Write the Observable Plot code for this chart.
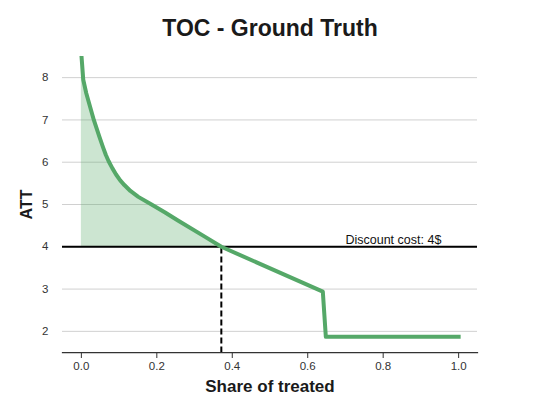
<!DOCTYPE html>
<html>
<head>
<meta charset="utf-8">
<script src="https://cdn.jsdelivr.net/npm/d3@7"></script>
<script src="https://cdn.jsdelivr.net/npm/@observablehq/plot@0.6"></script>
<style>
  html, body { margin: 0; padding: 0; background: #fff; }
  #chart { width: 554px; height: 398px; }
</style>
</head>
<body>
<div id="chart"></div>
<script>
// ---- data ----
const shareTreated = [0, 0.005, 0.013, 0.033, 0.047, 0.058, 0.065, 0.072, 0.082, 0.092, 0.103, 0.114, 0.13, 0.151, 0.186, 0.222, 0.256, 0.327, 0.371, 0.64, 0.648, 1.0];
const attValues    = [8.55, 7.95, 7.63, 7.0, 6.62, 6.34, 6.17, 6.03, 5.86, 5.71, 5.57, 5.46, 5.32, 5.18, 5.0, 4.81, 4.62, 4.24, 4.0, 2.94, 1.87, 1.87];
const discountCost = 4;
const breakEvenShare = 0.371;
const xTicks = [0, 0.2, 0.4, 0.6, 0.8, 1.0];
const yTicks = [2, 3, 4, 5, 6, 7, 8];
const titleText = "TOC - Ground Truth";
const xLabel = "Share of treated";
const yLabel = "ATT";
const costLabel = "Discount cost: 4$";
const costLabelShare = 0.7;

const curve = shareTreated.map((s, i) => ({share: s, att: attValues[i]}));
const gain = curve.filter(d => d.share <= breakEvenShare);

const green = "#55a868";
const font = "'Liberation Sans', Arial, sans-serif";

const chart = Plot.plot({
  width: 554,
  height: 398,
  marginLeft: 62,
  marginRight: 77,
  marginTop: 56,
  marginBottom: 46,
  style: {fontFamily: font, background: "#fff", color: "#262626"},
  x: {domain: [-0.05, 1.05]},
  y: {domain: [1.5, 8.5]},
  marks: [
    Plot.gridY(yTicks, {stroke: "#d0d0d0", strokeOpacity: 1, strokeWidth: 1}),
    Plot.areaY(gain, {x: "share", y1: discountCost, y2: "att", fill: green, fillOpacity: 0.3}),
    Plot.ruleY([discountCost], {stroke: "#000", strokeWidth: 2}),
    Plot.ruleX([breakEvenShare], {y1: discountCost, stroke: "#000", strokeWidth: 2, strokeDasharray: "6,3", clip: true}),
    Plot.line(curve, {x: "share", y: "att", stroke: green, strokeWidth: 4, strokeLinejoin: "round", strokeLinecap: "square", clip: true}),
    Plot.text([costLabel], {x: costLabelShare, y: discountCost, text: d => d, textAnchor: "start", lineAnchor: "bottom", dy: -3, fontSize: 12.5, fill: "#111"}),
    Plot.frame({anchor: "bottom", stroke: "#333", strokeWidth: 1.25}),
    Plot.axisX({ticks: xTicks, tickFormat: d3.format(".1f"), tickSize: 6, tickPadding: 3, label: null, fontSize: 11.5, color: "#333"}),
    Plot.axisY({ticks: yTicks, tickFormat: d3.format("d"), tickSize: 0, tickPadding: 14, label: null, fontSize: 11.5, color: "#333"}),
    Plot.text([titleText], {frameAnchor: "top", text: d => d, dy: -28, lineAnchor: "middle", fontSize: 23, fontWeight: "bold", fill: "#1a1a1a"}),
    Plot.text([xLabel], {frameAnchor: "bottom", text: d => d, dy: 34, lineAnchor: "middle", fontSize: 17, fontWeight: "bold", fill: "#1a1a1a"}),
    Plot.text([yLabel], {frameAnchor: "left", text: d => d, dx: -36, rotate: -90, textAnchor: "middle", lineAnchor: "middle", fontSize: 16, fontWeight: "bold", fill: "#1a1a1a"})
  ]
});
document.getElementById("chart").appendChild(chart);
</script>
</body>
</html>
